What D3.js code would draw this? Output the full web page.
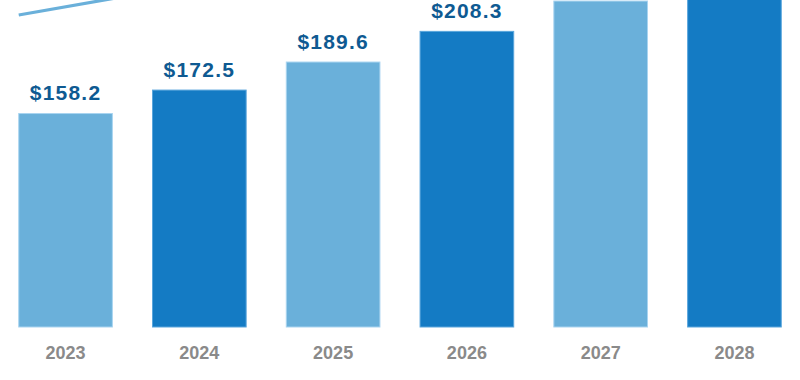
<!DOCTYPE html>
<html>
<head>
<meta charset="utf-8">
<script src="https://cdn.jsdelivr.net/npm/d3@7"></script>
<style>
  html, body { margin: 0; padding: 0; background: #ffffff; }
  svg { display: block; }
</style>
</head>
<body>
<svg id="chart" width="800" height="380"></svg>
<script>
const years = ["2023", "2024", "2025", "2026", "2027", "2028"];
const values = [158.2, 172.5, 189.6, 208.3, 226.8, 247.1];
const valueLabels = ["$158.2", "$172.5", "$189.6", "$208.3", "$226.8", "$247.1"];
const barColors = ["#6ab0da", "#147bc4", "#6ab0da", "#147bc4", "#6ab0da", "#147bc4"];
const edgeColors = ["#a9d4f0", "#5aa6dc", "#a9d4f0", "#5aa6dc", "#a9d4f0", "#5aa6dc"];

const W = 800, H = 380;
const baseY = 327, topY = -37;
const svg = d3.select("#chart");

const x = d3.scaleBand().domain(years).range([0, W]).paddingInner(0.3).paddingOuter(0.14);
const y = d3.scaleLinear().domain([28, 250]).range([baseY, topY]);
const yLine = d3.scaleLinear().domain([28, 250]).range([baseY - 98.5, topY - 98.5]);

const data = years.map((yr, i) => ({ year: yr, value: values[i], label: valueLabels[i], color: barColors[i], edge: edgeColors[i] }));

// trend line
svg.append("path")
  .datum(data)
  .attr("fill", "none")
  .attr("stroke", "#6ab0da")
  .attr("stroke-width", 3.2)
  .attr("d", d3.line().x(d => x(d.year)).y(d => yLine(d.value)));

// bars
svg.append("g").selectAll("rect")
  .data(data)
  .join("rect")
  .attr("x", d => x(d.year))
  .attr("y", d => y(d.value))
  .attr("width", x.bandwidth())
  .attr("height", d => y(28) - y(d.value))
  .attr("fill", d => d.color)
  .attr("stroke", d => d.edge)
  .attr("stroke-width", 1);

// value labels (only those that fall inside the visible frame)
svg.append("g").selectAll("text")
  .data(data.filter(d => y(d.value) - 14 - 16 > 0))
  .join("text")
  .attr("x", d => x(d.year) + x.bandwidth() / 2)
  .attr("y", d => y(d.value) - 13.5)
  .attr("text-anchor", "middle")
  .attr("font-family", "'Liberation Sans', Arial, Helvetica, sans-serif")
  .attr("font-weight", "bold")
  .attr("font-size", 21)
  .attr("letter-spacing", 1.2)
  .attr("fill", "#0e5a92")
  .text(d => d.label);

// x axis labels
const xAxis = d3.axisBottom(x).tickSize(0).tickPadding(0);
const gx = svg.append("g").attr("transform", `translate(0, ${baseY})`).call(xAxis);
gx.select(".domain").remove();
gx.selectAll("text")
  .attr("dy", 0)
  .attr("y", 32)
  .attr("font-family", "'Liberation Sans', Arial, Helvetica, sans-serif")
  .attr("font-weight", "bold")
  .attr("font-size", 18)
  .attr("fill", "#8a8a8a");
</script>
</body>
</html>
